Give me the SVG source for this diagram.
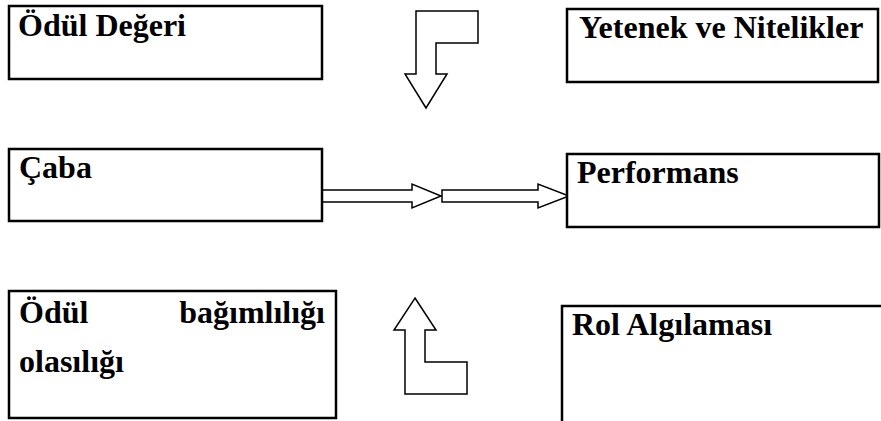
<svg xmlns="http://www.w3.org/2000/svg" width="881" height="421" viewBox="0 0 881 421">
<style>
.box{fill:#fff;stroke:#000;stroke-width:2.5}
.t{font-family:"Liberation Serif","Times New Roman",serif;font-weight:bold;font-size:32px;fill:#000}
.arr{fill:#fff;stroke:#000;stroke-width:1.5;stroke-linejoin:miter}
</style>
<rect width="881" height="421" fill="#fff"/>
<g id="connectors">
<polygon class="arr" points="416,11 478,11 478,43 436,43 436,74 447,74 426,108 405,74 416,74"/>
<polygon class="arr" points="322,190 412,190 412,184 441,196 412,208 412,202 322,202"/>
<polygon class="arr" points="442,190 538,190 538,184 569,196 538,208 538,202 442,202"/>
<polygon class="arr" points="415,298 436,330 425,330 425,362 467,362 467,394 405,394 405,330 394,330"/>
</g>
<g id="odul-degeri">
<rect class="box" x="9" y="6" width="313" height="73"/>
<text class="t" x="18" y="36">Ödül Değeri</text>
</g>
<g id="yetenek">
<rect class="box" x="567" y="9" width="311" height="73"/>
<text class="t" x="579" y="38">Yetenek ve Nitelikler</text>
</g>
<g id="caba">
<rect class="box" x="9" y="149" width="313" height="72"/>
<text class="t" x="19" y="178">Çaba</text>
</g>
<g id="performans">
<rect class="box" x="567" y="154" width="312" height="73"/>
<text class="t" x="577" y="183">Performans</text>
</g>
<g id="odul-bagimliligi">
<rect class="box" x="9" y="291" width="327" height="127"/>
<text class="t" x="19" y="323">Ödül</text>
<text class="t" x="325" y="323" text-anchor="end">bağımlılığı</text>
<text class="t" x="19" y="372">olasılığı</text>
</g>
<g id="rol">
<path class="box" d="M562,423 V306 H883" fill="none"/>
<text class="t" x="572" y="335">Rol Algılaması</text>
</g>
</svg>
